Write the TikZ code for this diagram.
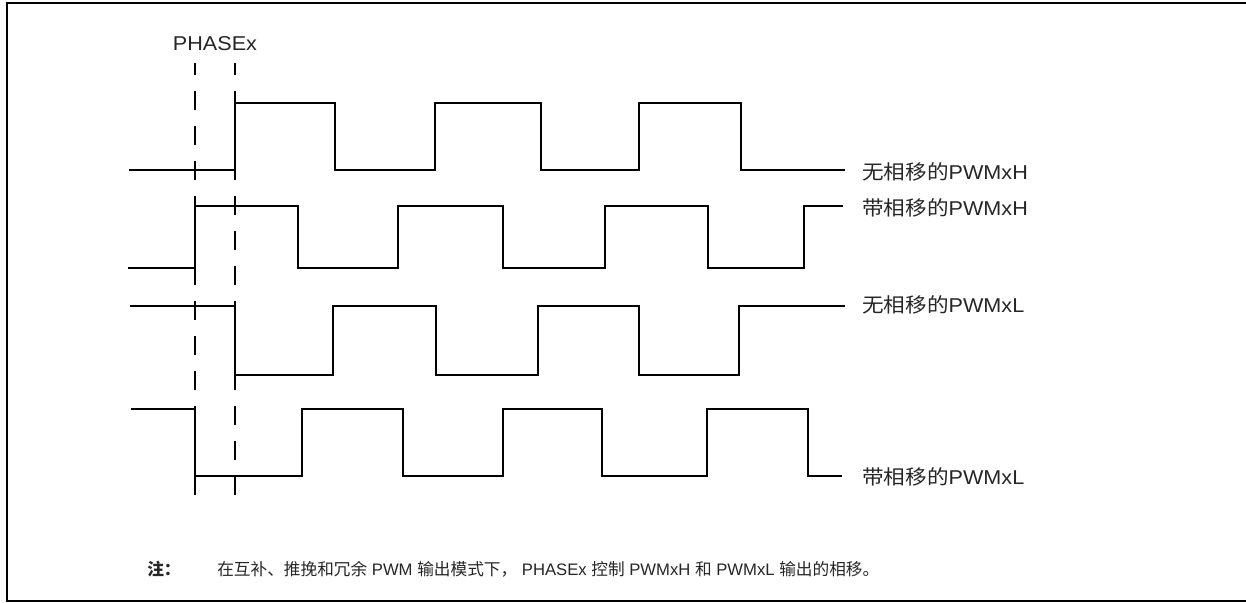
\documentclass[tikz,border=0pt]{standalone}
\usepackage{fontspec}
\setmainfont{Liberation Sans}
\newfontfamily\cjk{Noto Sans CJK SC}
\newfontfamily\lbl{Liberation Sans}[FakeStretch=1.08]
\newfontfamily\cjklbl{Noto Sans CJK SC}[FakeStretch=1.08]
\begin{document}
\begin{tikzpicture}[x=0.75pt,y=-0.75pt,
  wave/.style={line width=1.5pt,line join=miter},
  phaseline/.style={line width=1.5pt,dash pattern=on 14.25pt off 12pt,dash phase=5.25pt},
  frameline/.style={line width=1.6pt},
  lbltext/.style={anchor=west,inner sep=0pt,font=\lbl\fontsize{15pt}{18pt}\selectfont,text=black!85},
  notetext/.style={anchor=west,inner sep=0pt,font=\fontsize{12.5pt}{15pt}\selectfont,text=black!85}]
\useasboundingbox (0,0) rectangle (1246,603);
% frame (right side lies outside the picture)
\draw[frameline] (1260,3) -- (7,3) -- (7,601) -- (1260,601);
% PHASEx marker
\node[lbltext,anchor=center] (phase) at (215,44) {PHASEx};
\coordinate (d1t) at (195,63); \coordinate (d1b) at (195,495);
\coordinate (d2t) at (235,63); \coordinate (d2b) at (235,495);
\draw[phaseline] (d1t) -- (d1b);
\draw[phaseline] (d2t) -- (d2b);
% waveform 1: PWMxH without phase shift
\draw[wave] (129,170) -- (235,170) -- (235,103) -- (335,103) -- (335,170) -- (435,170) -- (435,103) -- (541,103) -- (541,170) -- (639,170) -- (639,103) -- (741,103) -- (741,170) -- (845,170);
% waveform 2: PWMxH with phase shift
\draw[wave] (128,268) -- (195,268) -- (195,206) -- (298,206) -- (298,268) -- (398,268) -- (398,206) -- (503,206) -- (503,268) -- (605,268) -- (605,206) -- (708,206) -- (708,268) -- (804,268) -- (804,206) -- (843,206);
% waveform 3: PWMxL without phase shift
\draw[wave] (130,306) -- (235,306) -- (235,375) -- (333,375) -- (333,306) -- (436,306) -- (436,375) -- (538,375) -- (538,306) -- (639,306) -- (639,375) -- (739,375) -- (739,306) -- (845,306);
% waveform 4: PWMxL with phase shift
\draw[wave] (131,409) -- (195,409) -- (195,476) -- (302,476) -- (302,409) -- (403,409) -- (403,476) -- (503,476) -- (503,409) -- (602,409) -- (602,476) -- (707,476) -- (707,409) -- (808,409) -- (808,476) -- (842,476);
% labels
\node[lbltext] (l1) at (862,172) {{\cjklbl 无相移的}PWMxH};
\node[lbltext] (l2) at (862,208) {{\cjklbl 带相移的}PWMxH};
\node[lbltext] (l3) at (862,305) {{\cjklbl 无相移的}PWMxL};
\node[lbltext] (l4) at (862,477) {{\cjklbl 带相移的}PWMxL};
% note
\node[notetext] (notehead) at (147,569) {{\cjk\bfseries 注：}};
\node[notetext] (note) at (217,569) {{\cjk 在互补、推挽和冗余} PWM {\cjk 输出模式下，} PHASEx {\cjk 控制} PWMxH {\cjk 和} PWMxL {\cjk 输出的相移。}};
\end{tikzpicture}
\end{document}
